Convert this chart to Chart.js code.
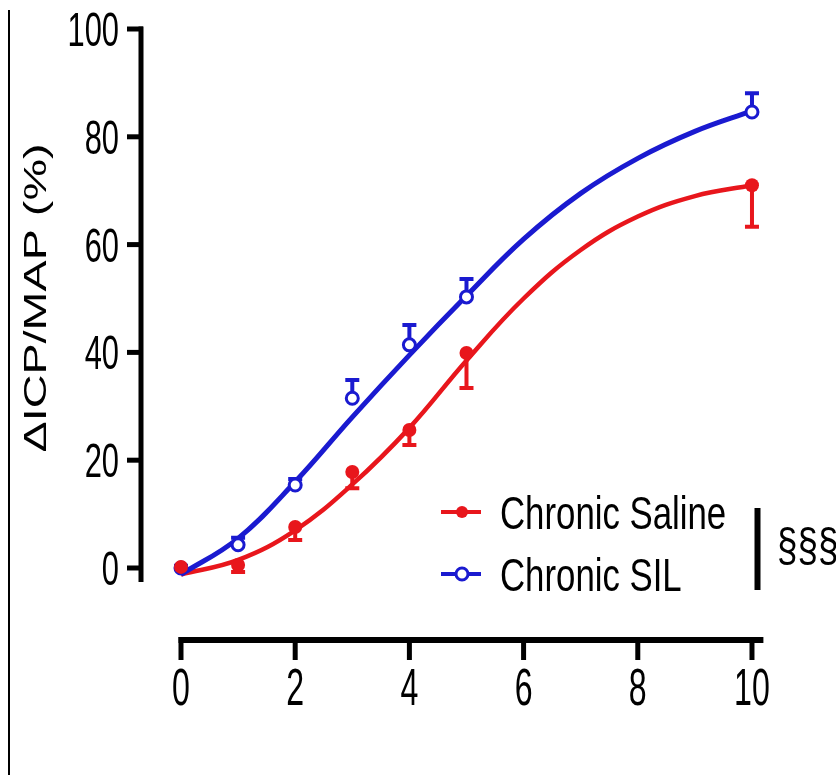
<!DOCTYPE html>
<html>
<head>
<meta charset="utf-8">
<script src="https://cdn.jsdelivr.net/npm/chart.js@4"></script>
<style>
  body { margin: 0; background: #fff; }
</style>
</head>
<body>
<canvas id="chart" width="836" height="775"></canvas>
<script>
// measured points (mean, SEM): saline errors drawn down, SIL errors drawn up
const xValues = [0, 1, 2, 3, 4, 5, 10];
const salineMean = [0.2, 0.55, 7.6, 17.8, 25.6, 39.9, 71.0];
const salineSem = [0.4, 1.3, 2.4, 3.0, 2.8, 6.5, 7.7];
const silMean = [0.0, 4.3, 15.4, 31.5, 41.4, 50.3, 84.6];
const silSem = [0.4, 1.3, 1.1, 3.4, 3.7, 3.3, 3.5];

// fitted curves
const fitX = [0, 1, 2, 3, 4, 5, 6, 7, 8, 9, 10];
const salineFit = [-1.2, 1.5, 7.0, 15.5, 26.0, 38.5, 50.0, 59.0, 65.2, 69.0, 71.0];
const silFit = [-1.2, 5.5, 16.0, 28.0, 39.5, 50.5, 61.0, 69.5, 76.0, 81.0, 84.8];

const xTicks = [0, 2, 4, 6, 8, 10];
const yTicks = [0, 20, 40, 60, 80, 100];

const labels = ['Chronic Saline', 'Chronic SIL'];
const yTitle = '\u0394ICP/MAP (%)';
const sigText = '\u00a7\u00a7\u00a7';

const RED = '#e8161c';
const BLUE = '#1a1ad0';
const FONT = '"Liberation Sans", Arial, Helvetica, sans-serif';

function pts(xs, ys) {
  return xs.map((x, i) => ({ x: x, y: ys[i] }));
}

function text(ctx, str, x, y, size, sx, align, baseline) {
  ctx.save();
  ctx.translate(x, y);
  ctx.scale(sx, 1);
  ctx.font = size + 'px ' + FONT;
  ctx.fillStyle = '#000';
  ctx.textAlign = align;
  ctx.textBaseline = baseline;
  ctx.fillText(str, 0, 0);
  ctx.restore();
}

const errorBars = {
  id: 'errorBars',
  beforeDatasetsDraw(chart) {
    const ctx = chart.ctx;
    const xs = chart.scales.x, ys = chart.scales.y;
    const groups = [
      { mean: salineMean, sem: salineSem, dir: -1, color: RED },
      { mean: silMean, sem: silSem, dir: 1, color: BLUE }
    ];
    ctx.save();
    groups.forEach(g => {
      ctx.strokeStyle = g.color;
      ctx.lineWidth = 4;
      xValues.forEach((x, i) => {
        const px = xs.getPixelForValue(x);
        const y0 = ys.getPixelForValue(g.mean[i]);
        const y1 = ys.getPixelForValue(g.mean[i] + g.dir * g.sem[i]);
        ctx.beginPath();
        ctx.moveTo(px, y0);
        ctx.lineTo(px, y1);
        ctx.moveTo(px - 7, y1);
        ctx.lineTo(px + 7, y1);
        ctx.stroke();
      });
    });
    ctx.restore();
  }
};

const axesAndText = {
  id: 'axesAndText',
  afterDraw(chart) {
    const ctx = chart.ctx;
    const xs = chart.scales.x, ys = chart.scales.y;
    const area = chart.chartArea;
    ctx.save();
    ctx.strokeStyle = '#000';
    ctx.lineCap = 'butt';

    // left frame line of the figure panel
    ctx.lineWidth = 2;
    ctx.beginPath();
    ctx.moveTo(9, 10);
    ctx.lineTo(9, 775);
    ctx.stroke();

    // y axis
    const ax = area.left;
    ctx.lineWidth = 5;
    ctx.beginPath();
    ctx.moveTo(ax, ys.getPixelForValue(-2.6));
    ctx.lineTo(ax, ys.getPixelForValue(100) - 2.5);
    ctx.stroke();
    yTicks.forEach(v => {
      const py = ys.getPixelForValue(v);
      ctx.beginPath();
      ctx.moveTo(ax - 14, py);
      ctx.lineTo(ax + 2, py);
      ctx.stroke();
      text(ctx, String(v), ax - 22, py + 17, 49, 0.63, 'right', 'alphabetic');
    });

    // x axis, offset below the plot
    const ay = area.bottom;
    ctx.lineWidth = 6;
    ctx.beginPath();
    ctx.moveTo(xs.getPixelForValue(0) - 2.5, ay);
    ctx.lineTo(area.right, ay);
    ctx.stroke();
    ctx.lineWidth = 5;
    xTicks.forEach(v => {
      const px = xs.getPixelForValue(v);
      ctx.beginPath();
      ctx.moveTo(px, ay - 3);
      ctx.lineTo(px, ay + 20);
      ctx.stroke();
      text(ctx, String(v), px, ay + 65, 51, 0.63, 'center', 'alphabetic');
    });

    // y title, stretched along its length like the source
    ctx.save();
    ctx.translate(46, 298);
    ctx.rotate(-Math.PI / 2);
    text(ctx, yTitle, 0, 0, 32, 1.46, 'center', 'alphabetic');
    ctx.restore();

    // legend
    const rows = [
      { label: labels[0], color: RED, y: 512, filled: true },
      { label: labels[1], color: BLUE, y: 574, filled: false }
    ];
    rows.forEach(r => {
      ctx.strokeStyle = r.color;
      ctx.lineWidth = 4;
      ctx.beginPath();
      ctx.moveTo(441, r.y);
      ctx.lineTo(481, r.y);
      ctx.stroke();
      ctx.beginPath();
      ctx.arc(462, r.y, 6, 0, Math.PI * 2);
      if (r.filled) {
        ctx.fillStyle = r.color;
        ctx.fill();
      } else {
        ctx.fillStyle = '#fff';
        ctx.fill();
        ctx.lineWidth = 3;
        ctx.stroke();
      }
      text(ctx, r.label, 500, r.y + 17, 47, 0.74, 'left', 'alphabetic');
    });

    // significance bar
    ctx.strokeStyle = '#000';
    ctx.lineWidth = 6;
    ctx.beginPath();
    ctx.moveTo(757.5, 508);
    ctx.lineTo(757.5, 590);
    ctx.stroke();
    text(ctx, sigText, 777, 561, 46, 0.8, 'left', 'alphabetic');

    ctx.restore();
  }
};

new Chart(document.getElementById('chart'), {
  type: 'scatter',
  data: {
    datasets: [
      {
        label: labels[0] + ' fit',
        data: pts(fitX, salineFit),
        showLine: true,
        borderColor: RED,
        borderWidth: 4.5,
        pointRadius: 0,
        tension: 0.4,
        order: 3
      },
      {
        label: labels[1] + ' fit',
        data: pts(fitX, silFit),
        showLine: true,
        borderColor: BLUE,
        borderWidth: 5,
        pointRadius: 0,
        tension: 0.4,
        order: 2
      },
      {
        label: labels[1],
        data: pts(xValues, silMean),
        showLine: false,
        pointRadius: 6,
        borderWidth: 3,
        borderColor: BLUE,
        backgroundColor: '#fff',
        order: 1
      },
      {
        label: labels[0],
        data: pts(xValues, salineMean),
        showLine: false,
        pointRadius: 7,
        borderWidth: 0,
        borderColor: RED,
        backgroundColor: RED,
        order: 0
      }
    ]
  },
  options: {
    responsive: false,
    animation: false,
    devicePixelRatio: 1,
    clip: false,
    layout: { padding: { left: 141, right: 72.6, top: 29, bottom: 135 } },
    scales: {
      x: { type: 'linear', min: -0.7005, max: 10.2, display: false },
      y: { type: 'linear', min: -13.36, max: 100, display: false }
    },
    plugins: {
      legend: { display: false },
      tooltip: { enabled: false }
    }
  },
  plugins: [errorBars, axesAndText]
});
</script>
</body>
</html>
